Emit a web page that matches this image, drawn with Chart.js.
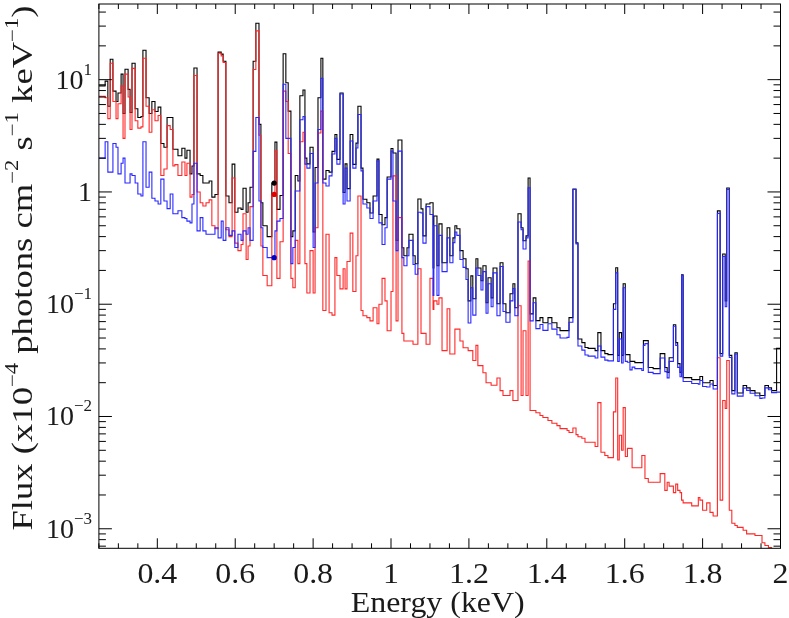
<!DOCTYPE html>
<html>
<head>
<meta charset="utf-8">
<script src="https://cdn.jsdelivr.net/npm/chart.js@4.4.1/dist/chart.umd.min.js"></script>
<style>
  html, body { margin: 0; padding: 0; background: #fff; }
  #wrap { width: 789px; height: 618px; }
</style>
</head>
<body>
<div id="wrap"><canvas id="spectrum"></canvas></div>
<script>
// bin edges in keV (one more than each flux list)
const energyEdges = [
  0.250, 0.266, 0.273, 0.279, 0.286, 0.294, 0.299, 0.307, 0.312, 0.317,
  0.325, 0.330, 0.335, 0.343, 0.350, 0.358, 0.363, 0.371, 0.379, 0.386,
  0.394, 0.402, 0.409, 0.417, 0.425, 0.433, 0.440, 0.445, 0.453, 0.463,
  0.471, 0.476, 0.484, 0.489, 0.494, 0.502, 0.510, 0.517, 0.525, 0.533,
  0.540, 0.548, 0.556, 0.564, 0.569, 0.576, 0.584, 0.592, 0.599, 0.607,
  0.615, 0.620, 0.628, 0.633, 0.638, 0.646, 0.653, 0.661, 0.666, 0.671,
  0.682, 0.694, 0.702, 0.707, 0.715, 0.723, 0.730, 0.736, 0.743, 0.748,
  0.754, 0.761, 0.766, 0.774, 0.779, 0.784, 0.792, 0.800, 0.805, 0.8125,
  0.820, 0.825, 0.833, 0.841, 0.8485, 0.856, 0.861, 0.869, 0.877, 0.882,
  0.887, 0.895, 0.902, 0.910, 0.915, 0.923, 0.928, 0.938, 0.946, 0.954,
  0.964, 0.969, 0.977, 0.9845, 0.990, 1.000, 1.005, 1.013, 1.018, 1.028,
  1.033, 1.041, 1.046, 1.0565, 1.062, 1.069, 1.077, 1.082, 1.090, 1.100,
  1.108, 1.110, 1.118, 1.123, 1.131, 1.144, 1.151, 1.159, 1.164, 1.169,
  1.177, 1.185, 1.1925, 1.198, 1.205, 1.210, 1.218, 1.223, 1.231, 1.236,
  1.244, 1.249, 1.257, 1.262, 1.272, 1.280, 1.2875, 1.295, 1.3055, 1.313,
  1.318, 1.326, 1.334, 1.339, 1.3466, 1.352, 1.357, 1.365, 1.372, 1.3825,
  1.390, 1.403, 1.413, 1.426, 1.434, 1.452, 1.457, 1.467, 1.475, 1.480,
  1.490, 1.498, 1.506, 1.524, 1.531, 1.539, 1.549, 1.557, 1.571, 1.577,
  1.582, 1.586, 1.592, 1.596, 1.6015, 1.607, 1.6135, 1.619, 1.626, 1.644,
  1.648, 1.652, 1.6605, 1.673, 1.691, 1.703, 1.709, 1.714, 1.725, 1.731,
  1.736, 1.742, 1.746, 1.750, 1.772, 1.789, 1.793, 1.800, 1.8105, 1.819,
  1.827, 1.838, 1.845, 1.8516, 1.858, 1.862, 1.8685, 1.875, 1.883, 1.889,
  1.904, 1.913, 1.922, 1.9345, 1.947, 1.9525, 1.960, 1.969, 1.977, 1.990,
  2.000
];

// total model (black)
const fluxTotal = [
  8.8, 9.7, 5.8, 15.2, 7.9, 6.4, 7.6, 11.2, 5.0, 12.4,
  8.2, 5.1, 14.0, 5.5, 4.6, 4.7, 18.3, 6.9, 5.0, 6.4,
  5.2, 5.7, 2.7, 2.5, 4.6, 4.6, 2.4, 2.4, 2.1, 2.45,
  2.0, 2.35, 1.45, 1.7, 12.7, 1.45, 1.4, 1.2, 1.2, 1.25,
  0.9, 0.95, 17.6, 16.9, 14.6, 0.92, 0.8, 1.77, 0.66, 0.72,
  0.7, 1.08, 0.66, 0.8, 1.1, 14.6, 31.8, 4.0, 0.8, 0.5,
  0.4, 1.2, 2.78, 0.7, 0.93, 17.0, 9.4, 5.25, 0.4, 0.45,
  1.4, 1.25, 7.2, 8.1, 2.0, 1.78, 2.5, 0.44, 1.65, 6.9,
  15.5, 1.3, 1.55, 1.5, 2.3, 3.25, 1.95, 7.6, 0.99, 1.78,
  1.07, 3.25, 1.76, 2.72, 5.8, 1.63, 0.86, 0.8, 0.65, 0.92,
  1.96, 0.63, 0.51, 0.59, 1.36, 2.44, 2.22, 0.37, 2.9, 0.318,
  0.27, 0.318, 0.42, 0.27, 0.229, 0.866, 0.706, 0.406, 0.78, 0.8,
  0.21, 0.61, 0.22, 0.52, 0.234, 0.48, 0.27, 0.39, 0.5, 0.47,
  0.3, 0.254, 0.207, 0.107, 0.179, 0.112, 0.254, 0.21, 0.162, 0.22,
  0.103, 0.172, 0.114, 0.21, 0.101, 0.234, 0.101, 0.084, 0.124, 0.152,
  0.093, 0.64, 0.48, 0.367, 0.406, 1.33, 0.082, 0.114, 0.0714, 0.076,
  0.0683, 0.076, 0.0683, 0.0618, 0.0582, 0.0582, 0.076, 1.06, 0.352, 0.049,
  0.0455, 0.0412, 0.0404, 0.0386, 0.0558, 0.0386, 0.0363, 0.0356, 0.101, 0.211,
  0.035, 0.0558, 0.035, 0.152, 0.0356, 0.0356, 0.031, 0.031, 0.0302, 0.0302,
  0.0474, 0.0474, 0.0273, 0.0267, 0.0363, 0.0273, 0.0247, 0.0334, 0.0657, 0.0455,
  0.0296, 0.0247, 0.183, 0.0222, 0.0213, 0.0213, 0.0227, 0.02, 0.02, 0.0209,
  0.0189, 0.678, 0.0363, 0.28, 0.107, 1.085, 0.035, 0.017, 0.037, 0.0162,
  0.0189, 0.018, 0.017, 0.0162, 0.0154, 0.0154, 0.0189, 0.018, 0.017, 0.0404
];

// cool component (red)
const fluxCool = [
  7.1, 6.9, 4.5, 14.0, 6.4, 4.5, 6.1, 8.8, 3.0, 11.2,
  7.0, 3.6, 12.6, 4.3, 3.7, 3.8, 15.5, 5.8, 3.4, 5.4,
  4.3, 4.8, 1.4, 1.6, 3.9, 3.6, 1.7, 1.75, 1.4, 1.85,
  1.4, 1.8, 0.9, 0.95, 10.9, 1.0, 0.8, 0.75, 0.8, 0.85,
  0.5, 0.47, 17.2, 16.3, 14.2, 0.46, 0.4, 1.33, 0.35, 0.3,
  0.34, 0.64, 0.25, 0.33, 0.74, 12.3, 27.2, 3.2, 0.33, 0.18,
  0.146, 0.95, 2.32, 0.17, 0.36, 7.9, 6.4, 2.2, 0.17, 0.14,
  0.37, 0.23, 2.8, 3.4, 0.23, 0.126, 0.3, 0.126, 0.48, 3.35,
  5.25, 0.088, 0.42, 0.084, 0.08, 0.26, 0.18, 0.137, 0.207, 0.137,
  0.24, 0.43, 0.13, 0.27, 0.92, 0.088, 0.079, 0.076, 0.071, 0.093,
  0.067, 0.1, 0.17, 0.107, 0.058, 0.13, 1.39, 0.071, 0.59, 0.055,
  0.047, 0.047, 0.047, 0.044, 0.044, 0.207, 0.055, 0.055, 0.044, 0.17,
  0.09, 0.107, 0.1, 0.114, 0.0386, 0.091, 0.036, 0.036, 0.06, 0.06,
  0.047, 0.041, 0.041, 0.0386, 0.0386, 0.0315, 0.043, 0.0284, 0.0284, 0.0245,
  0.02, 0.02, 0.019, 0.019, 0.022, 0.017, 0.0154, 0.0154, 0.017, 0.0139,
  0.0139, 0.097, 0.0154, 0.058, 0.0154, 0.243, 0.0113, 0.0113, 0.0108, 0.0102,
  0.0098, 0.0092, 0.0087, 0.0083, 0.0078, 0.0075, 0.0072, 0.0079, 0.0069, 0.0066,
  0.0064, 0.0059, 0.0059, 0.0054, 0.0133, 0.0048, 0.0045, 0.0043, 0.011, 0.022,
  0.0041, 0.0068, 0.005, 0.012, 0.0044, 0.0052, 0.0052, 0.0035, 0.0035, 0.0045,
  0.0045, 0.0028, 0.0026, 0.0026, 0.0031, 0.0022, 0.0026, 0.0024, 0.0021, 0.0025,
  0.0022, 0.0021, 0.0018, 0.0017, 0.0016, 0.0019, 0.0018, 0.00146, 0.0017, 0.0014,
  0.0013, 0.0334, 0.0018, 0.0139, 0.0118, 0.0315, 0.00146, 0.00112, 0.00107, 0.00103,
  0.00097, 0.0009, 0.0009, 0.00087, 0.00087, 0.00075, 0.00071, 0.00068, 0.00066, 0.00063
];

// hot component (blue)
const fluxHot = [
  2.0, 2.8, 1.5, 1.5, 2.7, 2.5, 1.45, 1.8, 2.0, 1.2,
  1.2, 1.45, 1.4, 1.2, 0.96, 0.92, 2.8, 1.1, 1.5, 0.88,
  0.83, 0.78, 1.3, 0.83, 0.71, 0.96, 0.64, 0.64, 0.68, 0.59,
  0.58, 0.55, 0.53, 0.78, 1.8, 0.45, 0.59, 0.45, 0.42, 0.42,
  0.42, 0.48, 0.39, 0.55, 0.37, 0.48, 0.41, 0.45, 0.32, 0.42,
  0.37, 0.45, 0.42, 0.48, 0.37, 2.3, 4.6, 0.83, 0.48, 0.32,
  0.26, 0.26, 0.45, 0.55, 0.58, 9.1, 3.0, 3.0, 0.23, 0.32,
  1.02, 1.02, 4.4, 4.7, 1.77, 1.63, 2.2, 0.32, 1.2, 3.6,
  10.3, 1.2, 1.13, 1.39, 2.18, 3.0, 1.77, 7.45, 0.78, 1.63,
  0.83, 2.84, 1.63, 2.46, 4.9, 1.54, 0.78, 0.72, 0.58, 0.83,
  1.89, 0.53, 0.34, 0.48, 1.3, 2.31, 0.83, 0.3, 2.31, 0.26,
  0.22, 0.27, 0.37, 0.226, 0.185, 0.66, 0.65, 0.35, 0.74, 0.63,
  0.12, 0.5, 0.12, 0.41, 0.195, 0.39, 0.234, 0.354, 0.44, 0.41,
  0.25, 0.213, 0.166, 0.068, 0.14, 0.08, 0.21, 0.18, 0.134, 0.195,
  0.083, 0.152, 0.095, 0.19, 0.079, 0.217, 0.086, 0.069, 0.107, 0.138,
  0.079, 0.54, 0.46, 0.31, 0.39, 1.09, 0.071, 0.103, 0.0606, 0.066,
  0.0585, 0.067, 0.06, 0.0535, 0.05, 0.0507, 0.069, 1.05, 0.345, 0.0424,
  0.039, 0.0353, 0.0345, 0.0332, 0.0425, 0.0338, 0.0318, 0.0313, 0.09, 0.19,
  0.031, 0.049, 0.03, 0.14, 0.031, 0.0304, 0.026, 0.0275, 0.0267, 0.0257,
  0.043, 0.0446, 0.0247, 0.0241, 0.0332, 0.0251, 0.0221, 0.031, 0.0636, 0.043,
  0.0274, 0.0226, 0.181, 0.0205, 0.0197, 0.0194, 0.0209, 0.0185, 0.0183, 0.0195,
  0.0176, 0.645, 0.0345, 0.266, 0.095, 1.05, 0.0335, 0.0159, 0.036, 0.0152,
  0.0179, 0.0171, 0.0161, 0.0153, 0.0145, 0.0146, 0.018, 0.0173, 0.0163, 0.0165
];

// the three marked points at 0.70 keV (black, red, blue)
const markerEnergy = 0.70;
const markerFlux = [1.2, 0.95, 0.26];
const markerColors = ['#000000', '#e00000', '#0000c0'];

const xMin = 0.25, xMax = 2.0, xMinorStep = 0.05;
const xTickValues = [0.4, 0.6, 0.8, 1.0, 1.2, 1.4, 1.6, 1.8, 2.0];
const xTickLabels = ['0.4', '0.6', '0.8', '1', '1.2', '1.4', '1.6', '1.8', '2'];
const yMin = 6.7e-4, yMax = 47.2;
const yTickValues = [1e-3, 1e-2, 1e-1, 1, 10];
const yTickLabels = [['10', '\u22123'], ['10', '\u22122'], ['10', '\u22121'], ['1', ''], ['10', '1']];

const FONT = '"Liberation Serif", "DejaVu Serif", serif';
const TEXT = '#1a1a1a';
const SIZE = 29;

function toSteps(values) {
    const pts = values.map((v, i) => ({ x: energyEdges[i], y: v }));
    pts.push({ x: energyEdges[values.length], y: values[values.length - 1] });
    return pts;
}

function setFont(ctx, size, sup) {
    ctx.font = (sup ? Math.round(size * 0.62) : size) + 'px ' + FONT;
}

function richWidth(ctx, parts, size, sx) {
    let w = 0;
    parts.forEach(([txt, sup]) => {
        setFont(ctx, size, sup);
        w += ctx.measureText(txt).width * sx;
    });
    return w;
}

// text with raised pieces, drawn left to right from x, stretched by sx
function drawRich(ctx, parts, x, y, size, sx) {
    let cx = x;
    parts.forEach(([txt, sup]) => {
        setFont(ctx, size, sup);
        ctx.save();
        ctx.translate(cx, sup ? y - size * 0.5 : y);
        ctx.scale(sx, 1);
        ctx.fillText(txt, 0, 0);
        ctx.restore();
        cx += ctx.measureText(txt).width * sx;
    });
}

function drawCentered(ctx, txt, x, y, size, sx) {
    const parts = [[txt, false]];
    drawRich(ctx, parts, x - richWidth(ctx, parts, size, sx) / 2, y, size, sx);
}

const axisDecor = {
    id: 'axisDecor',
    afterDraw(chart) {
        const { ctx, chartArea: a, scales } = chart;
        const xs = scales.x, ys = scales.y;
        ctx.save();
        ctx.strokeStyle = '#000';
        ctx.lineWidth = 1;
        ctx.strokeRect(a.left, a.top, a.right - a.left, a.bottom - a.top);

        ctx.beginPath();
        const nx = Math.round((xMax - xMin) / xMinorStep);
        for (let k = 0; k <= nx; k++) {
            const e = xMin + k * xMinorStep;
            const major = Math.abs(e / 0.2 - Math.round(e / 0.2)) < 1e-6;
            const len = major ? 10 : 5;
            const px = xs.getPixelForValue(e);
            ctx.moveTo(px, a.bottom); ctx.lineTo(px, a.bottom - len);
            ctx.moveTo(px, a.top); ctx.lineTo(px, a.top + len);
        }
        for (let d = -4; d <= 1; d++) {
            for (let m = 1; m <= 9; m++) {
                const v = m * Math.pow(10, d);
                if (v < yMin || v > yMax) continue;
                const len = m === 1 ? 13 : 7;
                const py = ys.getPixelForValue(v);
                ctx.moveTo(a.left, py); ctx.lineTo(a.left + len, py);
                ctx.moveTo(a.right, py); ctx.lineTo(a.right - len, py);
            }
        }
        ctx.stroke();

        ctx.fillStyle = TEXT;
        ctx.textAlign = 'left';
        ctx.textBaseline = 'alphabetic';
        // x tick labels and title
        xTickValues.forEach((v, i) => {
            drawCentered(ctx, xTickLabels[i], xs.getPixelForValue(v), 583, SIZE, 1.1);
        });
        drawCentered(ctx, 'Energy (keV)', (a.left + a.right) / 2 - 2, 612, SIZE, 1.1);

        // y tick labels
        yTickValues.forEach((v, i) => {
            const parts = [[yTickLabels[i][0], false]];
            if (yTickLabels[i][1]) parts.push([yTickLabels[i][1], true]);
            const w = richWidth(ctx, parts, 28, 1.0);
            drawRich(ctx, parts, 92 - w, ys.getPixelForValue(v) + 9, 28, 1.0);
        });

        // y title, rotated, stretched to run along the whole axis
        const title = [['Flux (x10', false], ['\u22124', true], [' photons cm', false], ['\u22122', true],
            [' s', false], ['\u22121', true], [' keV', false], ['\u22121', true], [')', false]];
        const sx = 525 / richWidth(ctx, title, SIZE, 1);
        ctx.save();
        ctx.translate(32, 268);
        ctx.rotate(-Math.PI / 2);
        drawRich(ctx, title, -262.5, 0, SIZE, sx);
        ctx.restore();
        ctx.restore();
    }
};

const stepStyle = { stepped: true, pointRadius: 0, fill: false, tension: 0, borderWidth: 1.1 };

new Chart(document.getElementById('spectrum'), {
    type: 'line',
    data: {
        datasets: [
            { label: 'markers', data: markerFlux.map(v => ({ x: markerEnergy, y: v })), showLine: false,
              pointRadius: 2.6, pointBackgroundColor: markerColors, pointBorderWidth: 0, order: 0 },
            Object.assign({ label: 'hot', data: toSteps(fluxHot), borderColor: 'rgb(40,40,255)', order: 1 }, stepStyle),
            Object.assign({ label: 'cool', data: toSteps(fluxCool), borderColor: 'rgb(255,40,40)', order: 2 }, stepStyle),
            Object.assign({ label: 'total', data: toSteps(fluxTotal), borderColor: '#000000', order: 3 }, stepStyle)
        ]
    },
    options: {
        responsive: true,
        maintainAspectRatio: false,
        animation: false,
        devicePixelRatio: 1,
        layout: { padding: { left: 0, right: 8.5, top: 2.7, bottom: 0 } },
        plugins: { legend: { display: false }, tooltip: { enabled: false } },
        scales: {
            x: {
                type: 'linear', min: xMin, max: xMax,
                grid: { display: false }, border: { display: false },
                ticks: { display: false },
                afterFit: s => { s.height = 69.7; }
            },
            y: {
                type: 'logarithmic', min: yMin, max: yMax,
                grid: { display: false }, border: { display: false },
                ticks: { display: false },
                afterFit: s => { s.width = 98.9; }
            }
        }
    },
    plugins: [axisDecor]
});
</script>
</body>
</html>
